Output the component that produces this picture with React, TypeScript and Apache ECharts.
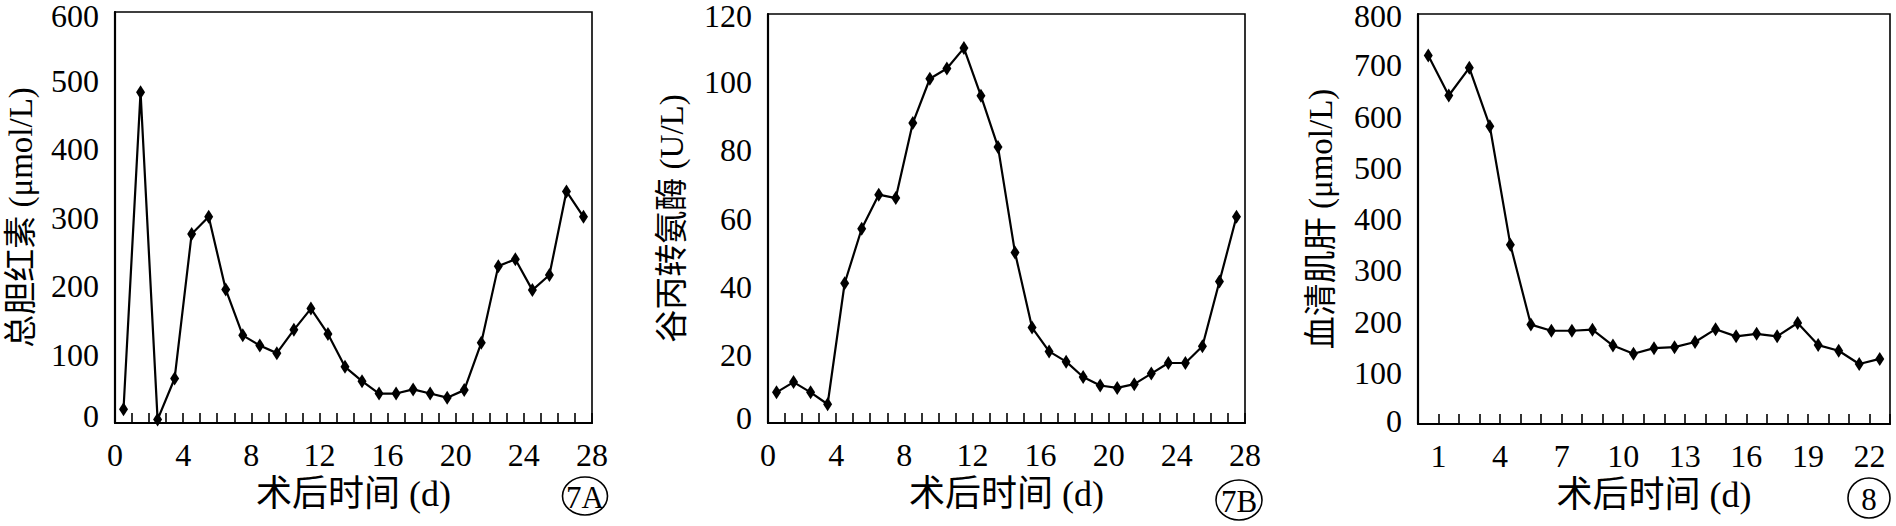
import React, { useEffect, useRef } from "react";
import * as echarts from "echarts";

// ---- data ----
const daysA = [1, 2, 3, 4, 5, 6, 7, 8, 9, 10, 11, 12, 13, 14, 15, 16, 17, 18, 19, 20, 21, 22, 23, 24, 25, 26, 27, 28];
const bilirubin = [20, 483, 5, 65, 276, 301, 195, 128, 113, 102, 136, 167, 130, 82, 61, 43, 43, 49, 43, 37, 48, 117, 229, 239, 194, 216, 338, 301];

const daysB = [1, 2, 3, 4, 5, 6, 7, 8, 9, 10, 11, 12, 13, 14, 15, 16, 17, 18, 19, 20, 21, 22, 23, 24, 25, 26, 27, 28];
const alt = [9, 12, 9, 5.5, 41, 57, 67, 66, 88, 101, 104, 110, 96, 81, 50, 28, 21, 18, 13.5, 11, 10.3, 11.4, 14.5, 17.6, 17.6, 22.5, 41.5, 60.5];

const daysC = [1, 2, 3, 4, 5, 6, 7, 8, 9, 10, 11, 12, 13, 14, 15, 16, 17, 18, 19, 20, 21, 22, 23];
const creatinine = [719, 641, 695, 581, 350, 194, 182, 182, 184, 153, 137, 148, 150, 160, 185, 171, 176, 171, 197, 154, 143, 117, 127];

const xTicksA = [0, 4, 8, 12, 16, 20, 24, 28];
const xTicksB = [0, 4, 8, 12, 16, 20, 24, 28];
const xTicksC = [1, 4, 7, 10, 13, 16, 19, 22];

const yNameA = "总胆红素 (μmol/L)";
const yNameB = "谷丙转氨酶 (U/L)";
const yNameC = "血清肌肝 (μmol/L)";
const xName = "术后时间 (d)";
const panelTags = ["7A", "7B", "8"];

const FONT = "'Liberation Serif', 'Times New Roman', 'Noto Sans CJK SC', serif";

export default function App() {
  const ref = useRef<HTMLDivElement>(null);

  useEffect(() => {
    if (!ref.current) return;
    const chart = echarts.init(ref.current, undefined, { renderer: "svg" });

    const grids = [
      { left: 115, top: 7, width: 477, height: 416 },
      { left: 768, top: 12, width: 477, height: 411 },
      { left: 1418, top: 12, width: 472, height: 412 },
    ];

    const makeX = (idx: number, max: number, ticks: number[]) => ({
      type: "value",
      gridIndex: idx,
      min: 0,
      max,
      interval: 1,
      name: xName,
      nameLocation: "middle",
      nameGap: 53,
      nameTextStyle: { fontFamily: FONT, fontSize: 36, color: "#000" },
      axisLine: { show: true, lineStyle: { color: "#000", width: 2.2 } },
      axisTick: { show: true, inside: true, length: 10, lineStyle: { color: "#000", width: 1.6 } },
      axisLabel: {
        show: true,
        margin: 16,
        fontFamily: FONT,
        fontSize: 32,
        color: "#000",
        showMinLabel: true,
        showMaxLabel: true,
        formatter: (v: number) => (ticks.indexOf(v) >= 0 ? String(v) : ""),
      },
      splitLine: { show: false },
    });

    const makeY = (
      idx: number,
      max: number,
      interval: number,
      name: string,
      gap: number,
      topShift: number,
      bottomShift: number
    ) => ({
      type: "value",
      gridIndex: idx,
      min: 0,
      max,
      interval,
      name,
      nameLocation: "middle",
      nameRotate: 90,
      nameGap: gap,
      nameTextStyle: { fontFamily: FONT, fontSize: 33, color: "#000" },
      axisLine: { show: true, lineStyle: { color: "#000", width: 2.2 } },
      axisTick: { show: false },
      axisLabel: {
        margin: 16,
        fontFamily: FONT,
        fontSize: 32,
        color: "#000",
        formatter: (v: number) => (v === max ? `{t|${v}}` : v === 0 ? `{b|${v}}` : `${v}`),
        rich: {
          t: { fontFamily: FONT, fontSize: 32, color: "#000", padding: [topShift * 2, 0, 0, 0] },
          b: { fontFamily: FONT, fontSize: 32, color: "#000", padding: [0, 0, bottomShift * 2, 0] },
        },
      },
      splitLine: { show: false },
    });

    const makeSeries = (idx: number, days: number[], vals: number[]) => ({
      type: "line",
      xAxisIndex: idx,
      yAxisIndex: idx,
      data: days.map((d, i) => [d - 0.5, vals[i]]),
      symbol: "diamond",
      symbolSize: [9, 14],
      showSymbol: true,
      lineStyle: { color: "#000", width: 2.2 },
      itemStyle: { color: "#000" },
    });

    const tagPos = [
      [585, 496, 22.5, 19],
      [1239, 500, 23, 20],
      [1869, 498, 21, 20],
    ];

    chart.setOption({
      animation: false,
      backgroundColor: "#fff",
      grid: grids.map((g) => ({ ...g, show: true, borderColor: "#000", borderWidth: 1.6, backgroundColor: "transparent" })),
      xAxis: [makeX(0, 28, xTicksA), makeX(1, 28, xTicksB), makeX(2, 23, xTicksC)],
      yAxis: [
        makeY(0, 600, 100, yNameA, 78, 4, 7),
        makeY(1, 120, 20, yNameB, 80, 2, 5),
        makeY(2, 800, 100, yNameC, 81, 2, 3),
      ],
      series: [makeSeries(0, daysA, bilirubin), makeSeries(1, daysB, alt), makeSeries(2, daysC, creatinine)],
      graphic: tagPos.flatMap((p, i) => [
        {
          type: "ellipse",
          shape: { cx: p[0], cy: p[1], rx: p[2], ry: p[3] },
          style: { fill: "none", stroke: "#000", lineWidth: 1.6 },
        },
        {
          type: "text",
          x: p[0],
          y: p[1] + 1,
          style: {
            text: panelTags[i],
            fontFamily: FONT,
            fontSize: 31,
            fill: "#000",
            align: "center",
            verticalAlign: "middle",
          },
        },
      ]),
    });

    return () => chart.dispose();
  }, []);

  return (
    <div
      ref={ref}
      style={{ position: "fixed", left: 0, top: 0, width: 1896, height: 526, background: "#fff" }}
    />
  );
}
